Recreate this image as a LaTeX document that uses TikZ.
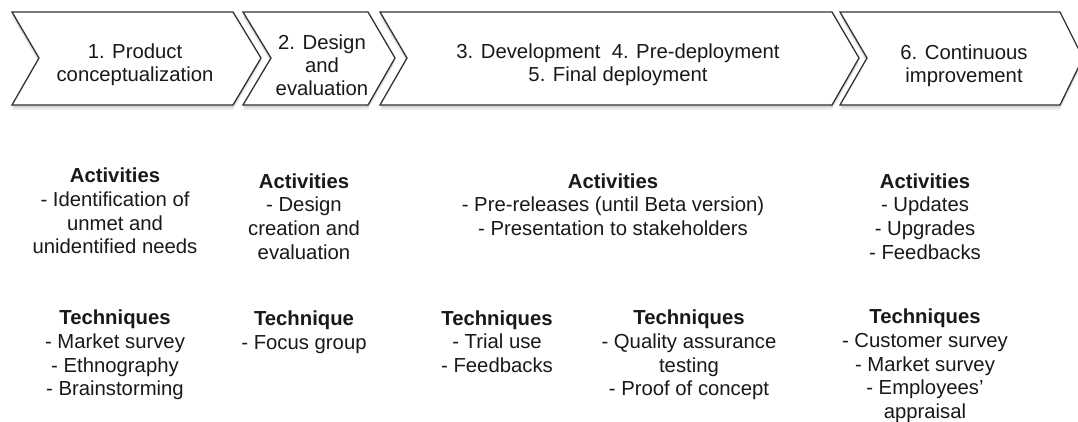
\documentclass[tikz,border=0pt]{standalone}
\usepackage{fontspec}
\setmainfont{Liberation Sans}
\begin{document}
\begin{tikzpicture}[x=1pt,y=-1pt,
  chev/.style={draw=black!80,line width=1.3pt,fill=white,line join=miter},
  shad/.style={fill=black,opacity=0.06,draw=none},
  ctxt/.style={align=center,inner sep=0pt,text=black!90,font=\fontsize{20.3}{23}\selectfont},
  btxt/.style={align=center,inner sep=0pt,text=black!90,font=\fontsize{20.3}{23.7}\selectfont}
]
\useasboundingbox (0,0) rectangle (1078,422);
\fill[white] (0,0) rectangle (1078,422);
\begin{scope}
\clip (0,0) rectangle (1078,422);
% shadows
\foreach \s in {2,3.5,5}{
  \fill[shad,yshift=-\s pt] (12,12) -- (233,12) -- (261,58) -- (233,105) -- (12,105) -- (39,58) -- cycle;
  \fill[shad,yshift=-\s pt] (243,12) -- (368,12) -- (395,58) -- (368,105) -- (243,105) -- (271,58) -- cycle;
  \fill[shad,yshift=-\s pt] (380,12) -- (832,12) -- (859,58) -- (832,105) -- (380,105) -- (407,58) -- cycle;
  \fill[shad,yshift=-\s pt] (840,12) -- (1060,12) -- (1083,58) -- (1060,105) -- (840,105) -- (867,58) -- cycle;
}
\draw[chev] (12,12) -- (233,12) -- (261,58) -- (233,105) -- (12,105) -- (39,58) -- cycle;
\draw[chev] (243,12) -- (368,12) -- (395,58) -- (368,105) -- (243,105) -- (271,58) -- cycle;
\draw[chev] (380,12) -- (832,12) -- (859,58) -- (832,105) -- (380,105) -- (407,58) -- cycle;
\draw[chev] (840,12) -- (1060,12) -- (1083,58) -- (1060,105) -- (840,105) -- (867,58) -- cycle;
\end{scope}
% chevron labels
\node[ctxt] (c1) at (135,65) {1. Product\\conceptualization};
\node[ctxt] (c2) at (322,65.5) {2. Design\\and\\evaluation};
\node[ctxt] (c3) at (618,65) {3. Development\ \ 4. Pre-deployment\\5. Final deployment};
\node[ctxt] (c4) at (964,66) {6. Continuous\\improvement};
% activities
\node[btxt] (a1) at (115,211) {\textbf{Activities}\\- Identification of\\unmet and\\unidentified needs};
\node[btxt] (a2) at (304,216.5) {\textbf{Activities}\\- Design\\creation and\\evaluation};
\node[btxt] (a3) at (613,204.5) {\textbf{Activities}\\- Pre-releases (until Beta version)\\- Presentation to stakeholders};
\node[btxt] (a4) at (925,216.5) {\textbf{Activities}\\- Updates\\- Upgrades\\- Feedbacks};
% techniques
\node[btxt] (t1) at (115,355) {\textbf{Techniques}\\- Market survey\\- Ethnography\\- Brainstorming};
\node[btxt] (t2) at (304,332) {\textbf{Technique}\\- Focus group};
\node[btxt] (t3a) at (497,341.5) {\textbf{Techniques}\\- Trial use\\- Feedbacks};
\node[btxt] (t3b) at (689,355) {\textbf{Techniques}\\- Quality assurance\\testing\\- Proof of concept};
\node[btxt] (t4) at (925,366) {\textbf{Techniques}\\- Customer survey\\- Market survey\\- Employees’\\appraisal};
\end{tikzpicture}
\end{document}
